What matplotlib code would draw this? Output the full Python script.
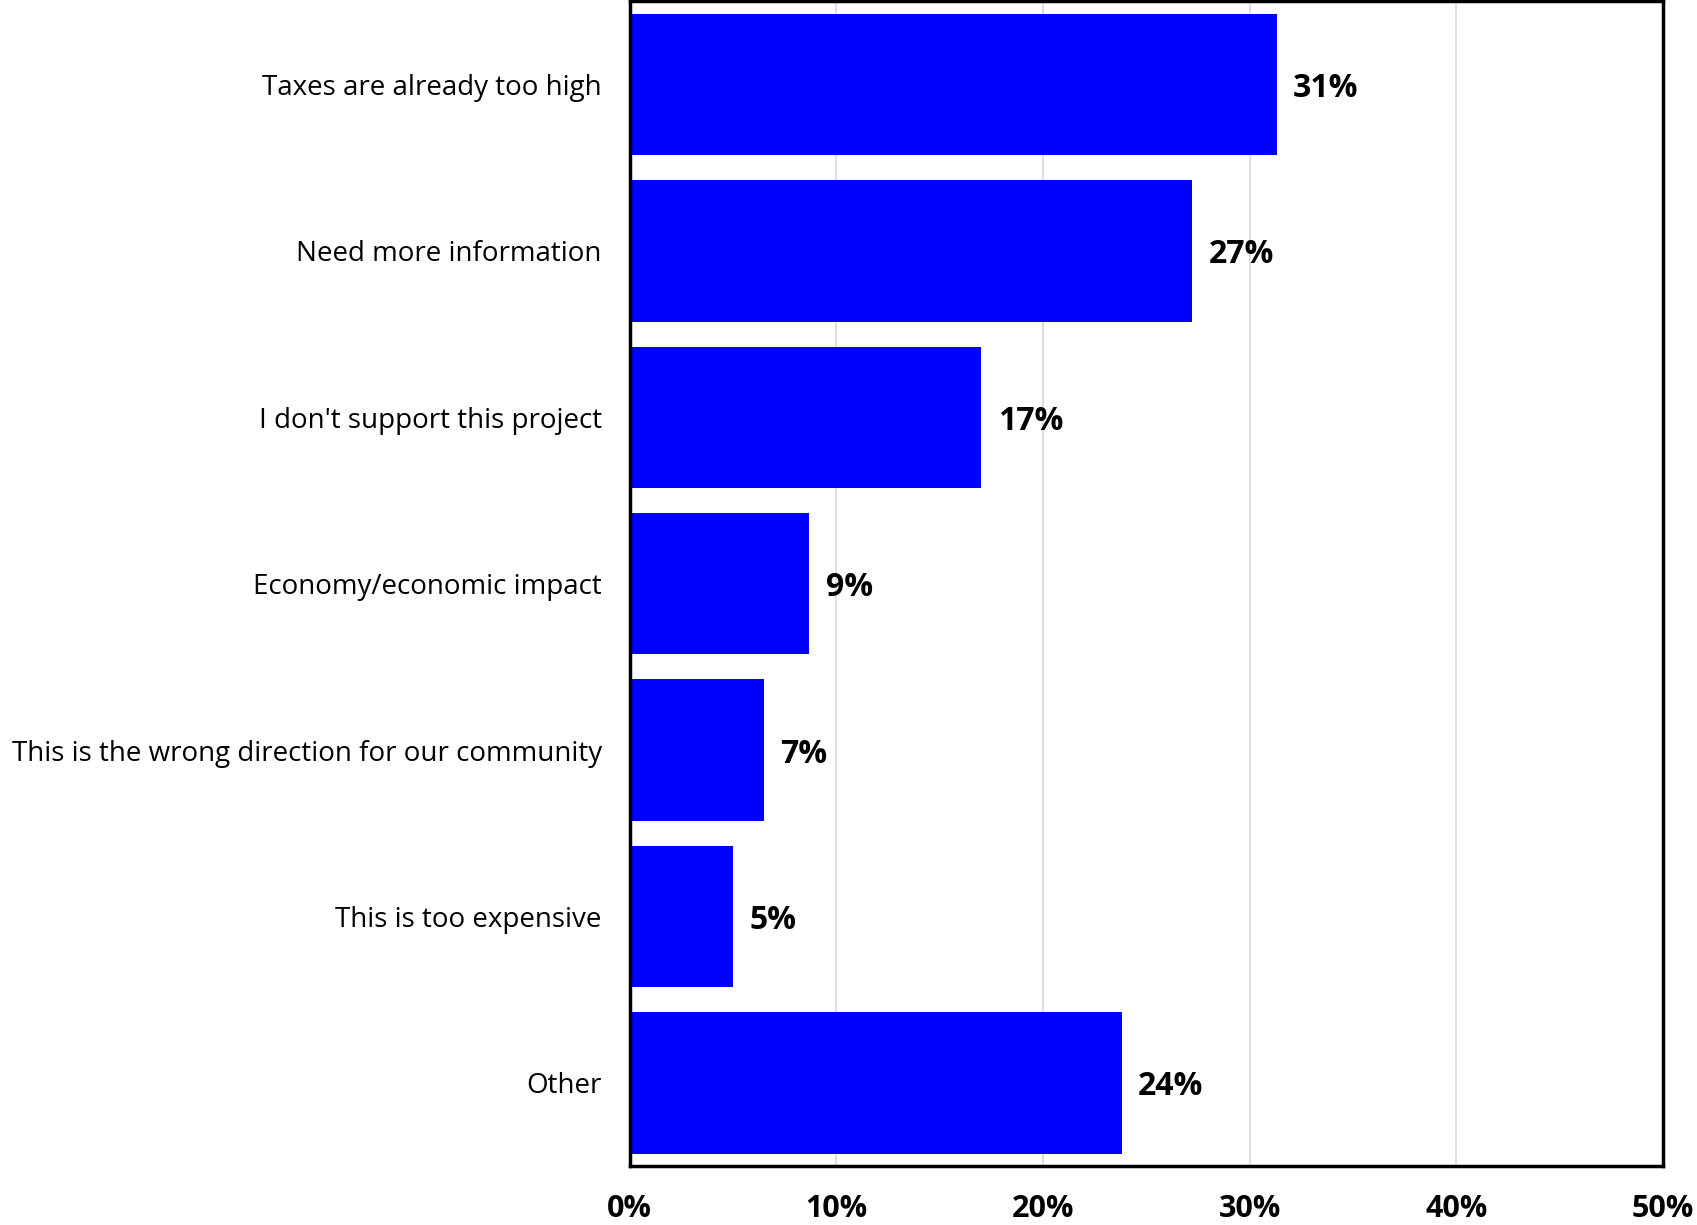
import matplotlib
matplotlib.use("Agg")
import matplotlib.pyplot as plt
from matplotlib.ticker import PercentFormatter

# data
categories = [
    "Taxes are already too high",
    "Need more information",
    "I don't support this project",
    "Economy/economic impact",
    "This is the wrong direction for our community",
    "This is too expensive",
    "Other",
]
values = [31.3, 27.2, 17.0, 8.7, 6.5, 5.0, 23.8]
labels = ["31%", "27%", "17%", "9%", "7%", "5%", "24%"]
xticks = [0, 10, 20, 30, 40, 50]

plt.rcParams["font.family"] = ["Open Sans", "DejaVu Sans"]

fig = plt.figure(figsize=(16.97, 12.25), dpi=100)
ax = fig.add_axes([0.371, 0.048, 0.609, 0.951])

pos = list(range(len(categories)))
ax.barh(pos, values, height=0.85, color="#0000FF", zorder=2)

for p, v, lab in zip(pos, values, labels):
    ax.annotate(lab, (v, p), xytext=(12, 0), textcoords="offset points",
                va="center_baseline", ha="left", fontsize=23, fontweight="bold")

ax.set_ylim(len(categories) - 0.5, -0.5)
ax.set_xlim(0, 50)
ax.set_yticks(pos)
ax.set_yticklabels(categories, fontsize=20)
ax.set_xticks(xticks)
ax.xaxis.set_major_formatter(PercentFormatter(decimals=0))
for t in ax.get_xticklabels():
    t.set_fontsize(22)
    t.set_fontweight("bold")
ax.tick_params(axis="both", length=0)
ax.tick_params(axis="x", pad=20)
ax.tick_params(axis="y", pad=20)

ax.grid(axis="x", color="#d9d9d9", linewidth=1.2, zorder=0)
ax.set_axisbelow(True)
for s in ax.spines.values():
    s.set_linewidth(2.5)
    s.set_color("black")

fig.savefig("out.png", dpi=100)
